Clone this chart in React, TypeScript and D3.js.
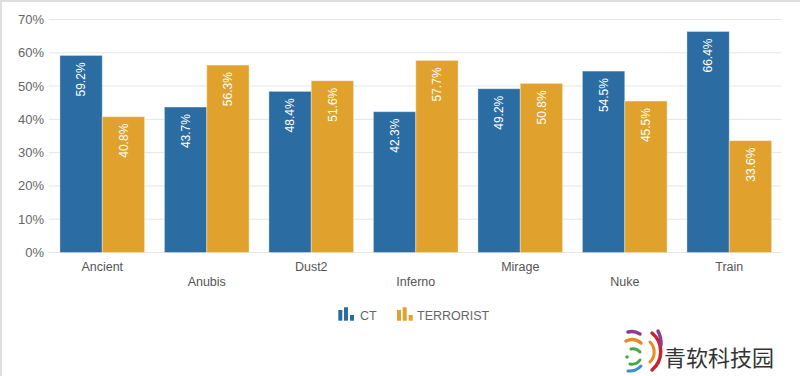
import React from "react";
import * as d3 from "d3";

const categories = ["Ancient", "Anubis", "Dust2", "Inferno", "Mirage", "Nuke", "Train"];
const ctValues = [59.2, 43.7, 48.4, 42.3, 49.2, 54.5, 66.4];
const tValues = [40.8, 56.3, 51.6, 57.7, 50.8, 45.5, 33.6];
const yTicks = [0, 10, 20, 30, 40, 50, 60, 70];
const seriesNames = ["CT", "TERRORIST"];
const seriesColors = ["#2b6ca3", "#e0a22d"];

const W = 800;
const H = 376;
const left = 50;
const right = 781.5;
const top = 19.5;
const bottom = 252.5;

export default function App() {
  const x = d3.scaleBand<string>().domain(categories).range([left, right]).paddingInner(0.19).paddingOuter(0.095);
  const inner = d3.scaleBand<number>().domain([0, 1]).range([0, x.bandwidth()]);
  const y = d3.scaleLinear().domain([0, 70]).range([bottom, top]);
  const series = [ctValues, tValues];

  const icon = (x0: number) => (
    <g fill="currentColor">
      <rect x={x0} y={310} width={4} height={10.7} />
      <rect x={x0 + 5.7} y={307.3} width={4} height={13.4} />
      <rect x={x0 + 11.7} y={315} width={4} height={5.7} />
    </g>
  );

  return (
    <svg width={W} height={H} style={{ position: "absolute", left: 0, top: 0, background: "#fff" }}
      fontFamily="Arial, 'Liberation Sans', sans-serif">
      <rect x={0} y={0} width={W} height={2} fill="#dedede" />
      <rect x={0} y={0} width={2} height={H} fill="#dedede" />
      {yTicks.map((t) => (
        <g key={t}>
          <line x1={left - 1} x2={right} y1={y(t)} y2={y(t)} stroke="#e6e6e6" strokeWidth={1} />
          <text x={44} y={y(t) + 4.5} textAnchor="end" fontSize={13} fill="#666">{t}%</text>
        </g>
      ))}
      {categories.map((c, i) => (
        <g key={c}>
          {series.map((vals, s) => {
            const bx = (x(c) as number) + (inner(s) as number);
            const bw = inner.bandwidth();
            const by = y(vals[i]);
            return (
              <g key={s}>
                <rect x={bx} y={by} width={bw} height={bottom - by} fill={seriesColors[s]}
                  stroke="rgba(255,255,255,0.35)" strokeWidth={1} />
                <text transform={`translate(${bx + bw / 2 + 4.3},${by + 7}) rotate(-90)`} textAnchor="end"
                  fontSize={12} fill="#fff">{vals[i].toFixed(1)}%</text>
              </g>
            );
          })}
          <text x={(x(c) as number) + x.bandwidth() / 2} y={i % 2 === 0 ? 270.5 : 286} textAnchor="middle"
            fontSize={12.5} fill="#555">{c}</text>
        </g>
      ))}
      <g style={{ color: seriesColors[0] }}>{icon(338.3)}</g>
      <text x={360} y={320} fontSize={12.5} fill="#666">{seriesNames[0]}</text>
      <g style={{ color: seriesColors[1] }}>{icon(397)}</g>
      <text x={417} y={320} fontSize={12.5} fill="#666">{seriesNames[1]}</text>
      <g fill="none" strokeLinecap="round">
        <path d="M 640 334 A 16 16 0 0 0 628 332" stroke="#8e3a97" strokeWidth={3.5} />
        <path d="M 641 343 A 14 14 0 0 0 626 341" stroke="#e88a1f" strokeWidth={3.5} />
        <path d="M 640 352 A 9 9 0 0 0 631 349" stroke="#4aa54a" strokeWidth={3} />
        <path d="M 640 360 A 10 10 0 0 1 630 364" stroke="#4aa54a" strokeWidth={3} />
        <path d="M 641 366 A 16 16 0 0 1 628 371" stroke="#3a8fd0" strokeWidth={3} />
        <circle cx={627} cy={357} r={1.8} fill="#4aa54a" stroke="none" />
        <path d="M 652 333 A 24 24 0 0 1 652 370" stroke="#c8232c" strokeWidth={3.5} />
        <path d="M 658 331 A 28 28 0 0 1 661 345" stroke="#8e3a97" strokeWidth={3.5} />
        <path d="M 650 342 A 14 14 0 0 1 650 362" stroke="#e88a1f" strokeWidth={3} />
      </g>
      <text x={664} y={366} fontSize={22} fill="#333" fontFamily="'Noto Sans CJK SC', sans-serif">青软科技园</text>
    </svg>
  );
}
